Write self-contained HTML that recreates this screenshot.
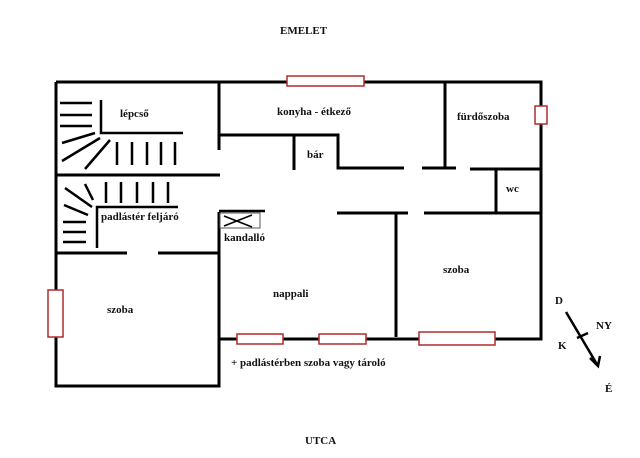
<!DOCTYPE html><html><head><style>body{margin:0;background:#fff}svg{display:block}text{font-family:"Liberation Serif",serif;font-weight:bold;font-size:11px;fill:#111}</style></head><body>
<svg width="640" height="458" viewBox="0 0 640 458" xmlns="http://www.w3.org/2000/svg">
<g stroke="#000" stroke-width="3" fill="none">
<path d="M56 82H541V339H219M56 82V386H219V339"/>
<path d="M219 82V150M219 212V386M219 135H338V168H404M422 168H456M445 82V169M470 169H541M496 169V212M337 213H408M424 213H541M396 213V337M294 135V170"/>
<path d="M56 175H220M56 253H127M158 253H219"/>
</g>
<g stroke="#000" stroke-width="2.5" fill="none">
<path d="M101 100V133H183M60 103H92M60 115H92M60 126H92M62 143L95 133M62 161L100 138M85 169L110 140M117 142V165M132 142V165M147 142V165M161 142V165M175 142V165"/>
<path d="M106 182V203M121 182V203M137 182V203M153 182V203M168 182V203M65 188L92 207M85 184L93 200M64 205L88 215M63 222H86M63 232H86M63 242H86M97 248V207H178"/>
<path d="M219 211H265M598 366L566 312M577 338L588 333M590 358L598 366L600 356"/>
</g>
<rect x="220" y="213" width="40" height="15" fill="none" stroke="#555" stroke-width="1"/>
<path d="M224 216L252 227M224 226L252 215" stroke="#000" stroke-width="1.5"/>
<g fill="#fff" stroke="#b02b2b" stroke-width="1.5">
<rect x="287" y="76" width="77" height="10"/><rect x="535" y="106" width="12" height="18"/><rect x="48" y="290" width="15" height="47"/>
<rect x="237" y="334" width="46" height="10"/><rect x="319" y="334" width="47" height="10"/><rect x="419" y="332" width="76" height="13"/>
</g>
<text x="280" y="34">EMELET</text><text x="305" y="444">UTCA</text>
<text x="120" y="117">lépcső</text><text x="277" y="115">konyha - étkező</text><text x="457" y="120">fürdőszoba</text>
<text x="307" y="158">bár</text><text x="506" y="192">wc</text><text x="101" y="220">padlástér feljáró</text>
<text x="224" y="241">kandalló</text><text x="443" y="273">szoba</text><text x="273" y="297">nappali</text><text x="107" y="313">szoba</text>
<text x="231" y="366">+ padlástérben szoba vagy tároló</text>
<text x="555" y="304">D</text><text x="596" y="329">NY</text><text x="558" y="349">K</text><text x="605" y="392">É</text>
</svg></body></html>
